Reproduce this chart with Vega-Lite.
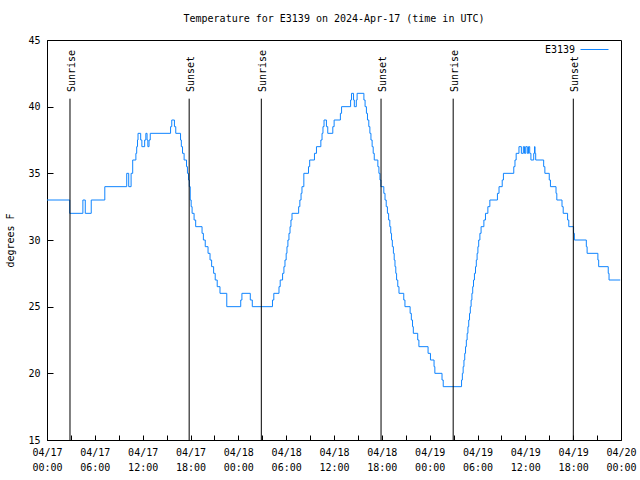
{
  "$schema": "https://vega.github.io/schema/vega-lite/v6.json",
  "width": 574,
  "height": 400,
  "autosize": {"type": "none"},
  "padding": {"left": 47, "top": 40, "right": 19, "bottom": 40},
  "background": "white",
  "title": {"text": "Temperature for E3139 on 2024-Apr-17 (time in UTC)", "font": "DejaVu Sans Mono", "fontSize": 10, "fontWeight": "normal", "color": "black", "anchor": "middle", "offset": 11},
  "config": {
    "font": "DejaVu Sans Mono",
    "view": {"stroke": "black", "strokeWidth": 1},
    "axis": {"domainColor": "black", "tickColor": "black", "labelColor": "black", "titleColor": "black", "labelFont": "DejaVu Sans Mono", "titleFont": "DejaVu Sans Mono", "labelFontSize": 10, "titleFontSize": 10, "titleFontWeight": "normal", "grid": false, "tickWidth": 1, "domainWidth": 1},
    "legend": {"labelFont": "DejaVu Sans Mono", "labelFontSize": 10, "labelColor": "black"}
  },
  "datasets": {
    "temps": [
      {"t": "2024-04-17 00:00", "temp": 33},
      {"t": "2024-04-17 02:51", "temp": 32},
      {"t": "2024-04-17 04:30", "temp": 33},
      {"t": "2024-04-17 04:48", "temp": 32},
      {"t": "2024-04-17 05:33", "temp": 33},
      {"t": "2024-04-17 07:15", "temp": 34},
      {"t": "2024-04-17 10:00", "temp": 35},
      {"t": "2024-04-17 10:15", "temp": 34},
      {"t": "2024-04-17 10:33", "temp": 35},
      {"t": "2024-04-17 10:45", "temp": 36},
      {"t": "2024-04-17 11:09", "temp": 36.5},
      {"t": "2024-04-17 11:15", "temp": 37},
      {"t": "2024-04-17 11:21", "temp": 37.5},
      {"t": "2024-04-17 11:25", "temp": 38},
      {"t": "2024-04-17 11:45", "temp": 37.5},
      {"t": "2024-04-17 11:54", "temp": 37},
      {"t": "2024-04-17 12:15", "temp": 37.5},
      {"t": "2024-04-17 12:24", "temp": 38},
      {"t": "2024-04-17 12:33", "temp": 37.5},
      {"t": "2024-04-17 12:39", "temp": 37},
      {"t": "2024-04-17 12:48", "temp": 37.5},
      {"t": "2024-04-17 12:57", "temp": 38},
      {"t": "2024-04-17 15:30", "temp": 38.5},
      {"t": "2024-04-17 15:39", "temp": 39},
      {"t": "2024-04-17 15:59", "temp": 38.5},
      {"t": "2024-04-17 16:09", "temp": 38},
      {"t": "2024-04-17 16:45", "temp": 37.5},
      {"t": "2024-04-17 16:51", "temp": 37},
      {"t": "2024-04-17 17:00", "temp": 36.5},
      {"t": "2024-04-17 17:12", "temp": 36},
      {"t": "2024-04-17 17:30", "temp": 35.5},
      {"t": "2024-04-17 17:37", "temp": 35},
      {"t": "2024-04-17 17:45", "temp": 34.5},
      {"t": "2024-04-17 17:51", "temp": 34},
      {"t": "2024-04-17 17:58", "temp": 33},
      {"t": "2024-04-17 18:05", "temp": 32.5},
      {"t": "2024-04-17 18:12", "temp": 32},
      {"t": "2024-04-17 18:27", "temp": 31.5},
      {"t": "2024-04-17 18:39", "temp": 31},
      {"t": "2024-04-17 19:27", "temp": 30.5},
      {"t": "2024-04-17 19:37", "temp": 30},
      {"t": "2024-04-17 19:51", "temp": 29.5},
      {"t": "2024-04-17 20:12", "temp": 29},
      {"t": "2024-04-17 20:27", "temp": 28.5},
      {"t": "2024-04-17 20:39", "temp": 28},
      {"t": "2024-04-17 20:54", "temp": 27.5},
      {"t": "2024-04-17 21:06", "temp": 27},
      {"t": "2024-04-17 21:21", "temp": 26.5},
      {"t": "2024-04-17 21:42", "temp": 26},
      {"t": "2024-04-17 22:33", "temp": 25},
      {"t": "2024-04-18 00:18", "temp": 25.5},
      {"t": "2024-04-18 00:27", "temp": 26},
      {"t": "2024-04-18 01:30", "temp": 25.5},
      {"t": "2024-04-18 01:45", "temp": 25},
      {"t": "2024-04-18 04:17", "temp": 25.5},
      {"t": "2024-04-18 04:27", "temp": 26},
      {"t": "2024-04-18 05:06", "temp": 26.5},
      {"t": "2024-04-18 05:15", "temp": 27},
      {"t": "2024-04-18 05:33", "temp": 27.5},
      {"t": "2024-04-18 05:43", "temp": 28},
      {"t": "2024-04-18 05:51", "temp": 28.5},
      {"t": "2024-04-18 06:00", "temp": 29},
      {"t": "2024-04-18 06:06", "temp": 29.5},
      {"t": "2024-04-18 06:13", "temp": 30},
      {"t": "2024-04-18 06:21", "temp": 30.5},
      {"t": "2024-04-18 06:29", "temp": 31},
      {"t": "2024-04-18 06:36", "temp": 31.5},
      {"t": "2024-04-18 06:44", "temp": 32},
      {"t": "2024-04-18 07:34", "temp": 32.5},
      {"t": "2024-04-18 07:43", "temp": 33},
      {"t": "2024-04-18 07:52", "temp": 33.5},
      {"t": "2024-04-18 07:59", "temp": 34},
      {"t": "2024-04-18 08:13", "temp": 35},
      {"t": "2024-04-18 08:48", "temp": 35.5},
      {"t": "2024-04-18 08:57", "temp": 36},
      {"t": "2024-04-18 09:33", "temp": 36.5},
      {"t": "2024-04-18 09:48", "temp": 37},
      {"t": "2024-04-18 10:21", "temp": 37.5},
      {"t": "2024-04-18 10:30", "temp": 38},
      {"t": "2024-04-18 10:37", "temp": 38.5},
      {"t": "2024-04-18 10:45", "temp": 39},
      {"t": "2024-04-18 11:03", "temp": 38.5},
      {"t": "2024-04-18 11:13", "temp": 38},
      {"t": "2024-04-18 11:51", "temp": 38.5},
      {"t": "2024-04-18 12:01", "temp": 39},
      {"t": "2024-04-18 12:48", "temp": 39.5},
      {"t": "2024-04-18 12:57", "temp": 40},
      {"t": "2024-04-18 14:05", "temp": 40.5},
      {"t": "2024-04-18 14:12", "temp": 41},
      {"t": "2024-04-18 14:27", "temp": 40.5},
      {"t": "2024-04-18 14:33", "temp": 40},
      {"t": "2024-04-18 14:48", "temp": 40.5},
      {"t": "2024-04-18 14:54", "temp": 41},
      {"t": "2024-04-18 15:45", "temp": 40.5},
      {"t": "2024-04-18 15:54", "temp": 40},
      {"t": "2024-04-18 16:04", "temp": 39.5},
      {"t": "2024-04-18 16:12", "temp": 39},
      {"t": "2024-04-18 16:22", "temp": 38.5},
      {"t": "2024-04-18 16:30", "temp": 38},
      {"t": "2024-04-18 16:38", "temp": 37.5},
      {"t": "2024-04-18 16:47", "temp": 37},
      {"t": "2024-04-18 16:55", "temp": 36.5},
      {"t": "2024-04-18 17:03", "temp": 36},
      {"t": "2024-04-18 17:30", "temp": 35.5},
      {"t": "2024-04-18 17:38", "temp": 35},
      {"t": "2024-04-18 17:46", "temp": 34.5},
      {"t": "2024-04-18 17:53", "temp": 34},
      {"t": "2024-04-18 18:15", "temp": 33.5},
      {"t": "2024-04-18 18:24", "temp": 33},
      {"t": "2024-04-18 18:33", "temp": 32.5},
      {"t": "2024-04-18 18:42", "temp": 32},
      {"t": "2024-04-18 18:51", "temp": 31.5},
      {"t": "2024-04-18 19:00", "temp": 31},
      {"t": "2024-04-18 19:07", "temp": 30.5},
      {"t": "2024-04-18 19:13", "temp": 30},
      {"t": "2024-04-18 19:19", "temp": 29.5},
      {"t": "2024-04-18 19:27", "temp": 29},
      {"t": "2024-04-18 19:33", "temp": 28.5},
      {"t": "2024-04-18 19:39", "temp": 28},
      {"t": "2024-04-18 19:45", "temp": 27.5},
      {"t": "2024-04-18 19:51", "temp": 27},
      {"t": "2024-04-18 20:00", "temp": 26.5},
      {"t": "2024-04-18 20:09", "temp": 26},
      {"t": "2024-04-18 20:45", "temp": 25.5},
      {"t": "2024-04-18 20:54", "temp": 25},
      {"t": "2024-04-18 21:33", "temp": 24.5},
      {"t": "2024-04-18 21:42", "temp": 24},
      {"t": "2024-04-18 21:51", "temp": 23.5},
      {"t": "2024-04-18 21:57", "temp": 23},
      {"t": "2024-04-18 22:30", "temp": 22.5},
      {"t": "2024-04-18 22:39", "temp": 22},
      {"t": "2024-04-18 23:48", "temp": 21.5},
      {"t": "2024-04-19 00:06", "temp": 21},
      {"t": "2024-04-19 00:33", "temp": 20.5},
      {"t": "2024-04-19 00:39", "temp": 20},
      {"t": "2024-04-19 01:33", "temp": 19.5},
      {"t": "2024-04-19 01:42", "temp": 19},
      {"t": "2024-04-19 04:00", "temp": 19.5},
      {"t": "2024-04-19 04:06", "temp": 20},
      {"t": "2024-04-19 04:12", "temp": 20.5},
      {"t": "2024-04-19 04:18", "temp": 21},
      {"t": "2024-04-19 04:24", "temp": 21.5},
      {"t": "2024-04-19 04:30", "temp": 22},
      {"t": "2024-04-19 04:36", "temp": 22.5},
      {"t": "2024-04-19 04:42", "temp": 23},
      {"t": "2024-04-19 04:48", "temp": 23.5},
      {"t": "2024-04-19 04:54", "temp": 24},
      {"t": "2024-04-19 05:00", "temp": 24.5},
      {"t": "2024-04-19 05:06", "temp": 25},
      {"t": "2024-04-19 05:12", "temp": 25.5},
      {"t": "2024-04-19 05:18", "temp": 26},
      {"t": "2024-04-19 05:24", "temp": 26.5},
      {"t": "2024-04-19 05:30", "temp": 27},
      {"t": "2024-04-19 05:37", "temp": 27.5},
      {"t": "2024-04-19 05:45", "temp": 28},
      {"t": "2024-04-19 05:51", "temp": 28.5},
      {"t": "2024-04-19 05:57", "temp": 29},
      {"t": "2024-04-19 06:03", "temp": 29.5},
      {"t": "2024-04-19 06:09", "temp": 30},
      {"t": "2024-04-19 06:18", "temp": 30.5},
      {"t": "2024-04-19 06:27", "temp": 31},
      {"t": "2024-04-19 06:48", "temp": 31.5},
      {"t": "2024-04-19 07:00", "temp": 32},
      {"t": "2024-04-19 07:18", "temp": 32.5},
      {"t": "2024-04-19 07:33", "temp": 33},
      {"t": "2024-04-19 08:30", "temp": 33.5},
      {"t": "2024-04-19 08:42", "temp": 34},
      {"t": "2024-04-19 09:06", "temp": 34.5},
      {"t": "2024-04-19 09:15", "temp": 35},
      {"t": "2024-04-19 10:33", "temp": 35.5},
      {"t": "2024-04-19 10:42", "temp": 36},
      {"t": "2024-04-19 10:51", "temp": 36.5},
      {"t": "2024-04-19 11:12", "temp": 37},
      {"t": "2024-04-19 11:30", "temp": 36.5},
      {"t": "2024-04-19 11:45", "temp": 37},
      {"t": "2024-04-19 11:54", "temp": 36.5},
      {"t": "2024-04-19 12:03", "temp": 37},
      {"t": "2024-04-19 12:15", "temp": 36.5},
      {"t": "2024-04-19 12:24", "temp": 37},
      {"t": "2024-04-19 12:33", "temp": 36.5},
      {"t": "2024-04-19 12:42", "temp": 36},
      {"t": "2024-04-19 13:03", "temp": 36.5},
      {"t": "2024-04-19 13:09", "temp": 37},
      {"t": "2024-04-19 13:13", "temp": 36.5},
      {"t": "2024-04-19 13:18", "temp": 36},
      {"t": "2024-04-19 14:18", "temp": 35.5},
      {"t": "2024-04-19 14:27", "temp": 35},
      {"t": "2024-04-19 15:00", "temp": 34.5},
      {"t": "2024-04-19 15:09", "temp": 34},
      {"t": "2024-04-19 15:51", "temp": 33.5},
      {"t": "2024-04-19 15:57", "temp": 33},
      {"t": "2024-04-19 16:36", "temp": 32.5},
      {"t": "2024-04-19 16:45", "temp": 32},
      {"t": "2024-04-19 17:18", "temp": 31.5},
      {"t": "2024-04-19 17:27", "temp": 31},
      {"t": "2024-04-19 18:03", "temp": 30.5},
      {"t": "2024-04-19 18:09", "temp": 30},
      {"t": "2024-04-19 19:39", "temp": 29.5},
      {"t": "2024-04-19 19:45", "temp": 29},
      {"t": "2024-04-19 21:06", "temp": 28.5},
      {"t": "2024-04-19 21:12", "temp": 28},
      {"t": "2024-04-19 22:24", "temp": 27.5},
      {"t": "2024-04-19 22:30", "temp": 27},
      {"t": "2024-04-19 23:54", "temp": 27}
    ]
  },
  "resolve": {"axis": {"x": "independent", "y": "independent"}},
  "layer": [
    {
      "data": {"name": "temps", "format": {"parse": {"t": "utc:'%Y-%m-%d %H:%M'"}}},
      "mark": {"type": "line", "interpolate": "step-after", "strokeWidth": 1},
      "encoding": {
        "x": {
          "field": "t", "type": "temporal",
          "scale": {"type": "utc", "domain": [{"year": 2024, "month": 4, "date": 17, "hours": 0, "utc": true}, {"year": 2024, "month": 4, "date": 20, "hours": 0, "utc": true}]},
          "axis": {
            "orient": "bottom", "title": null,
            "values": [
              {"year": 2024, "month": 4, "date": 17, "hours": 0, "utc": true},
              {"year": 2024, "month": 4, "date": 17, "hours": 3, "utc": true},
              {"year": 2024, "month": 4, "date": 17, "hours": 6, "utc": true},
              {"year": 2024, "month": 4, "date": 17, "hours": 9, "utc": true},
              {"year": 2024, "month": 4, "date": 17, "hours": 12, "utc": true},
              {"year": 2024, "month": 4, "date": 17, "hours": 15, "utc": true},
              {"year": 2024, "month": 4, "date": 17, "hours": 18, "utc": true},
              {"year": 2024, "month": 4, "date": 17, "hours": 21, "utc": true},
              {"year": 2024, "month": 4, "date": 18, "hours": 0, "utc": true},
              {"year": 2024, "month": 4, "date": 18, "hours": 3, "utc": true},
              {"year": 2024, "month": 4, "date": 18, "hours": 6, "utc": true},
              {"year": 2024, "month": 4, "date": 18, "hours": 9, "utc": true},
              {"year": 2024, "month": 4, "date": 18, "hours": 12, "utc": true},
              {"year": 2024, "month": 4, "date": 18, "hours": 15, "utc": true},
              {"year": 2024, "month": 4, "date": 18, "hours": 18, "utc": true},
              {"year": 2024, "month": 4, "date": 18, "hours": 21, "utc": true},
              {"year": 2024, "month": 4, "date": 19, "hours": 0, "utc": true},
              {"year": 2024, "month": 4, "date": 19, "hours": 3, "utc": true},
              {"year": 2024, "month": 4, "date": 19, "hours": 6, "utc": true},
              {"year": 2024, "month": 4, "date": 19, "hours": 9, "utc": true},
              {"year": 2024, "month": 4, "date": 19, "hours": 12, "utc": true},
              {"year": 2024, "month": 4, "date": 19, "hours": 15, "utc": true},
              {"year": 2024, "month": 4, "date": 19, "hours": 18, "utc": true},
              {"year": 2024, "month": 4, "date": 19, "hours": 21, "utc": true},
              {"year": 2024, "month": 4, "date": 20, "hours": 0, "utc": true}
            ],
            "labelExpr": "utchours(datum.value) % 6 == 0 ? [utcFormat(datum.value, '%m/%d'), utcFormat(datum.value, '%H:%M')] : ''",
            "labelLineHeight": 15, "labelBaseline": "top", "labelPadding": 12,
            "tickSize": -5, "labelFlush": false, "labelOverlap": false
          }
        },
        "y": {
          "field": "temp", "type": "quantitative",
          "scale": {"domain": [15, 45], "nice": false, "zero": false},
          "axis": {"orient": "left", "title": "degrees F", "values": [15, 20, 25, 30, 35, 40, 45], "tickSize": -6, "labelPadding": 13, "titlePadding": 12, "labelFlush": false}
        },
        "color": {
          "datum": "E3139",
          "scale": {"range": ["#0f84ff"]},
          "legend": {"title": null, "orient": "none", "legendX": 533, "legendY": -5, "symbolType": "stroke", "symbolSize": 784, "symbolStrokeWidth": 1, "labelAlign": "right", "labelOffset": -34, "padding": 0}
        }
      }
    },
    {
      "data": {"values": [
        {"t": "2024-04-17T02:53:00Z", "event": "Sunrise"},
        {"t": "2024-04-17T17:50:00Z", "event": "Sunset"},
        {"t": "2024-04-18T02:53:00Z", "event": "Sunrise"},
        {"t": "2024-04-18T17:54:00Z", "event": "Sunset"},
        {"t": "2024-04-19T02:57:00Z", "event": "Sunrise"},
        {"t": "2024-04-19T18:01:00Z", "event": "Sunset"}
      ]},
      "layer": [
        {
          "mark": {"type": "rule", "color": "black", "strokeWidth": 1},
          "encoding": {
            "x": {
              "field": "t", "type": "temporal",
              "axis": {
                "orient": "top", "title": null, "labels": false,
                "values": [
                  {"year": 2024, "month": 4, "date": 17, "hours": 0, "utc": true},
                  {"year": 2024, "month": 4, "date": 17, "hours": 3, "utc": true},
                  {"year": 2024, "month": 4, "date": 17, "hours": 6, "utc": true},
                  {"year": 2024, "month": 4, "date": 17, "hours": 9, "utc": true},
                  {"year": 2024, "month": 4, "date": 17, "hours": 12, "utc": true},
                  {"year": 2024, "month": 4, "date": 17, "hours": 15, "utc": true},
                  {"year": 2024, "month": 4, "date": 17, "hours": 18, "utc": true},
                  {"year": 2024, "month": 4, "date": 17, "hours": 21, "utc": true},
                  {"year": 2024, "month": 4, "date": 18, "hours": 0, "utc": true},
                  {"year": 2024, "month": 4, "date": 18, "hours": 3, "utc": true},
                  {"year": 2024, "month": 4, "date": 18, "hours": 6, "utc": true},
                  {"year": 2024, "month": 4, "date": 18, "hours": 9, "utc": true},
                  {"year": 2024, "month": 4, "date": 18, "hours": 12, "utc": true},
                  {"year": 2024, "month": 4, "date": 18, "hours": 15, "utc": true},
                  {"year": 2024, "month": 4, "date": 18, "hours": 18, "utc": true},
                  {"year": 2024, "month": 4, "date": 18, "hours": 21, "utc": true},
                  {"year": 2024, "month": 4, "date": 19, "hours": 0, "utc": true},
                  {"year": 2024, "month": 4, "date": 19, "hours": 3, "utc": true},
                  {"year": 2024, "month": 4, "date": 19, "hours": 6, "utc": true},
                  {"year": 2024, "month": 4, "date": 19, "hours": 9, "utc": true},
                  {"year": 2024, "month": 4, "date": 19, "hours": 12, "utc": true},
                  {"year": 2024, "month": 4, "date": 19, "hours": 15, "utc": true},
                  {"year": 2024, "month": 4, "date": 19, "hours": 18, "utc": true},
                  {"year": 2024, "month": 4, "date": 19, "hours": 21, "utc": true},
                  {"year": 2024, "month": 4, "date": 20, "hours": 0, "utc": true}
                ],
                "tickSize": -5
              }
            },
            "y": {"datum": 40.6, "type": "quantitative", "axis": {"orient": "right", "title": null, "labels": false, "values": [15, 20, 25, 30, 35, 40, 45], "tickSize": -6}},
            "y2": {"datum": 15}
          }
        },
        {
          "mark": {"type": "text", "angle": 270, "align": "left", "baseline": "middle", "dy": 2, "font": "DejaVu Sans Mono", "fontSize": 10, "color": "black"},
          "encoding": {
            "x": {"field": "t", "type": "temporal", "axis": null},
            "y": {"datum": 41.1, "type": "quantitative", "axis": null},
            "text": {"field": "event"}
          }
        }
      ]
    }
  ]
}
